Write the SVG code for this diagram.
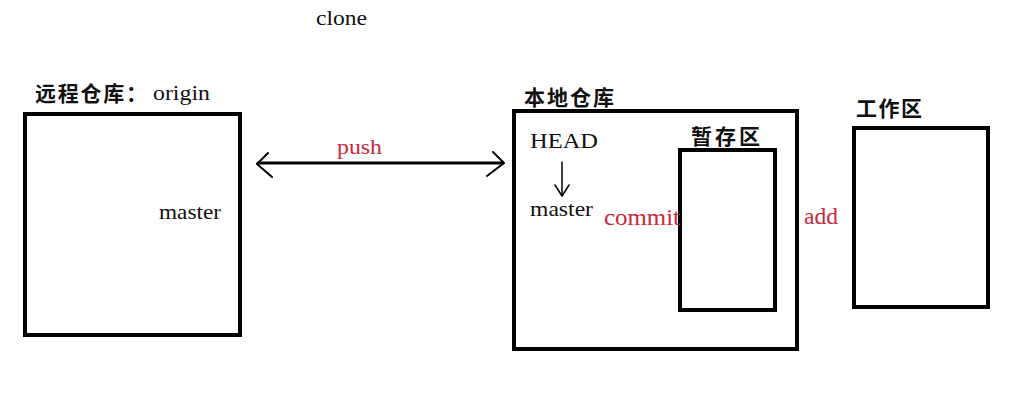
<svg xmlns="http://www.w3.org/2000/svg" width="1035" height="400" viewBox="0 0 1035 400">
<style>
.box{fill:#fff;stroke:#000;stroke-width:4}
.t{font-family:"Liberation Serif","Noto Sans CJK SC",serif;fill:#111}
.cn{font-family:"Noto Sans CJK SC","Liberation Serif",serif;font-weight:bold;fill:#111}
.red{font-family:"Liberation Serif",serif;fill:#c8283c}
.ln{fill:none;stroke:#000;stroke-linecap:round;stroke-linejoin:round}
</style>
<rect width="1035" height="400" fill="#fff"/>
<text class="t" x="316" y="25" font-size="22" textLength="51" lengthAdjust="spacingAndGlyphs">clone</text>
<g id="remote">
<rect class="box" x="25" y="114" width="215" height="221"/>
<text class="cn" x="35" y="101" font-size="21" textLength="112" lengthAdjust="spacing">远程仓库：</text>
<text class="t" x="153" y="100" font-size="22" textLength="57" lengthAdjust="spacingAndGlyphs">origin</text>
<text class="t" x="159" y="219" font-size="21" textLength="62" lengthAdjust="spacingAndGlyphs">master</text>
</g>
<g id="local">
<rect class="box" x="514" y="111" width="283" height="238"/>
<text class="cn" x="524" y="105" font-size="21" textLength="90" lengthAdjust="spacing">本地仓库</text>
<text class="t" x="530" y="148" font-size="22" textLength="68" lengthAdjust="spacingAndGlyphs">HEAD</text>
<text class="t" x="530" y="216" font-size="21" textLength="63" lengthAdjust="spacingAndGlyphs">master</text>
</g>
<g id="stage">
<rect class="box" x="680" y="150" width="95" height="160"/>
<text class="cn" x="691" y="144" font-size="21" textLength="69" lengthAdjust="spacing">暂存区</text>
</g>
<g id="work">
<rect class="box" x="854" y="128" width="134" height="179"/>
<text class="cn" x="856" y="116" font-size="21" textLength="66" lengthAdjust="spacing">工作区</text>
</g>
<g id="connectors">
<line class="ln" x1="258" y1="163" x2="503" y2="163" stroke-width="3"/>
<path class="ln" d="M268 153 L257 164 L272 177" stroke-width="2"/>
<path class="ln" d="M493 152 L504 163 L487 176" stroke-width="2"/>
<text class="red" x="337" y="154" font-size="22" textLength="45" lengthAdjust="spacingAndGlyphs">push</text>
<line class="ln" x1="562" y1="162" x2="562" y2="195" stroke-width="1.5"/>
<path class="ln" d="M555 185 L562 196 L569 185" stroke-width="1.5"/>
<text class="red" x="604" y="225" font-size="23" textLength="76" lengthAdjust="spacingAndGlyphs">commit</text>
<text class="red" x="804" y="224" font-size="23" textLength="34" lengthAdjust="spacingAndGlyphs">add</text>
</g>
</svg>
